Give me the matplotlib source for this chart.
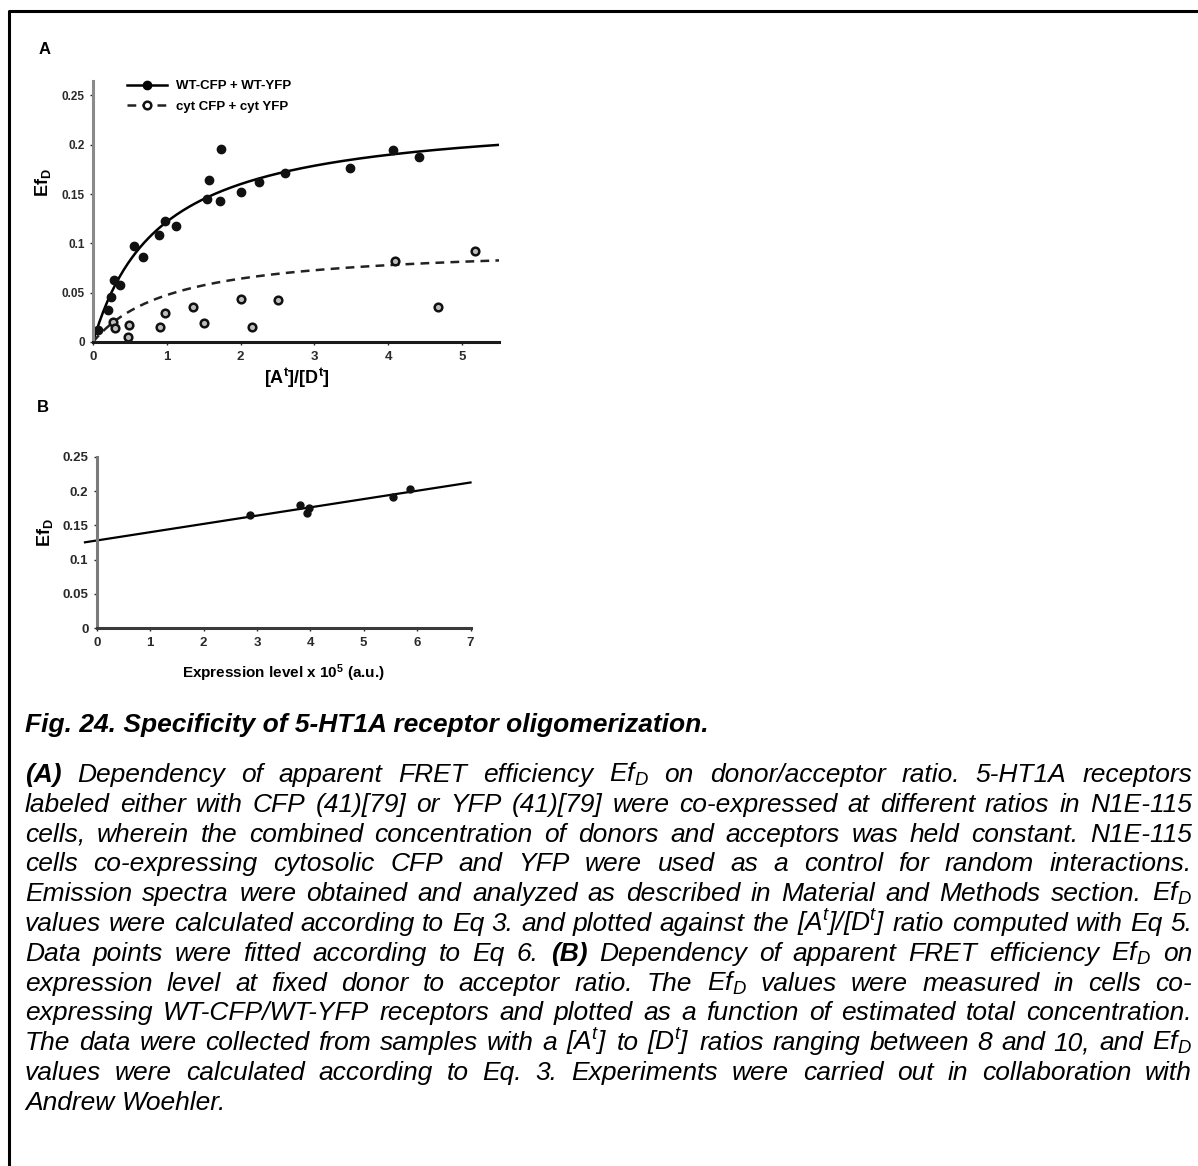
import numpy as np
import matplotlib
matplotlib.use('Agg')
import matplotlib.pyplot as plt
from matplotlib.lines import Line2D

plt.rcParams['font.family'] = ['Liberation Sans', 'DejaVu Sans']
plt.rcParams['mathtext.fontset'] = 'custom'
plt.rcParams['mathtext.rm'] = 'Liberation Sans'
plt.rcParams['mathtext.it'] = 'Liberation Sans:italic'
plt.rcParams['mathtext.bf'] = 'Liberation Sans:bold'

W, H = 1198, 1166

# --- panel A: Ef_D vs [A]/[D] ---
wt_ratio = [0.07, 0.2, 0.245, 0.29, 0.367, 0.56, 0.675, 0.89, 0.97, 1.12,
            1.545, 1.576, 1.725, 1.74, 2.0, 2.246, 2.595, 3.48, 4.07, 4.41]
wt_efd = [0.012, 0.032, 0.046, 0.063, 0.0575, 0.097, 0.0865, 0.109, 0.123, 0.118,
          0.1447, 0.164, 0.143, 0.1954, 0.152, 0.162, 0.171, 0.176, 0.195, 0.188]
cyt_ratio = [0.27, 0.3, 0.47, 0.49, 0.91, 0.98, 1.35, 1.5, 2.0, 2.15, 2.5, 4.09, 4.67, 5.18]
cyt_efd = [0.02, 0.014, 0.005, 0.017, 0.0155, 0.029, 0.035, 0.0196, 0.044, 0.015,
           0.0426, 0.0825, 0.0358, 0.0926]
# fitted hyperbola parameters (Emax, K)
wt_fit = (0.233, 0.91)
cyt_fit = (0.099, 1.08)
a_xticks = [0, 1, 2, 3, 4, 5]
a_yticks = [0, 0.05, 0.1, 0.15, 0.2, 0.25]
a_ylabels = ['0', '0.05', '0.1', '0.15', '0.2', '0.25']
legend_labels = ['WT-CFP + WT-YFP', 'cyt CFP + cyt YFP']

# --- panel B: Ef_D vs expression level ---
expr_level = [2.87, 3.81, 3.93, 3.98, 5.55, 5.87]
expr_efd = [0.165, 0.179, 0.168, 0.175, 0.192, 0.203]
b_xticks = [0, 1, 2, 3, 4, 5, 6, 7]
b_yticks = [0, 0.05, 0.1, 0.15, 0.2, 0.25]
b_ylabels = ['0', '0.05', '0.1', '0.15', '0.2', '0.25']

# --- caption ---
title = "Fig. 24. Specificity of 5-HT1A receptor oligomerization."
caption_lines = [
    "**(A)** Dependency of apparent FRET efficiency Ef$_D$ on donor/acceptor ratio. 5-HT1A receptors",
    "labeled either with CFP (41)[79] or YFP (41)[79] were co-expressed at different ratios in N1E-115",
    "cells, wherein the combined concentration of donors and acceptors was held constant. N1E-115",
    "cells co-expressing cytosolic CFP and YFP were used as a control for random interactions.",
    "Emission spectra were obtained and analyzed as described in Material and Methods section. Ef$_D$",
    "values were calculated according to Eq 3. and plotted against the [A$^t$]/[D$^t$] ratio computed with Eq 5.",
    "Data points were fitted according to Eq 6. **(B)** Dependency of apparent FRET efficiency Ef$_D$ on",
    "expression level at fixed donor to acceptor ratio. The Ef$_D$ values were measured in cells co-",
    "expressing WT-CFP/WT-YFP receptors and plotted as a function of estimated total concentration.",
    "The data were collected from samples with a [A$^t$] to [D$^t$] ratios ranging between 8 and 10, and Ef$_D$",
    "values were calculated according to Eq. 3. Experiments were carried out in collaboration with",
    "Andrew Woehler.",
]


def axes_px(left, top, right, bottom):
    return fig.add_axes([left / W, 1 - bottom / H, (right - left) / W, (bottom - top) / H])


def fpos(x, y):
    return x / W, 1 - y / H


def hyperbola(x, p):
    emax, k = p
    return emax * x / (k + x)


def style_axes(ax, ycol, xcol):
    for s in ('top', 'right'):
        ax.spines[s].set_visible(False)
    ax.spines['left'].set_color(ycol)
    ax.spines['bottom'].set_color(xcol)
    ax.spines['left'].set_linewidth(2.2)
    ax.spines['bottom'].set_linewidth(2.2)
    ax.tick_params(direction='out', length=2.5, width=1, colors='#2a2a2a',
                   labelsize=8.5)
    for lab in ax.get_xticklabels() + ax.get_yticklabels():
        lab.set_fontweight('bold')


fig = plt.figure(figsize=(W / 100, H / 100), dpi=100)

# page frame
fig.add_artist(Line2D([9 / W, 9 / W, 1], [0, 1 - 11 / H, 1 - 11 / H],
                      transform=fig.transFigure, color='black', lw=2.2))

# ---------------- panel A ----------------
axA = axes_px(93, 80.7, 499, 342)
xs = np.linspace(0, 5.5, 200)
axA.plot(xs, hyperbola(xs, wt_fit), color='black', lw=1.8)
axA.plot(xs, hyperbola(xs, cyt_fit), color='#222222', lw=1.8, ls=(0, (3.5, 2.5)))
axA.plot(wt_ratio, wt_efd, 'o', color='#111111', ms=6, clip_on=False)
axA.plot(cyt_ratio, cyt_efd, 'o', mfc='#bdbdbd', mec='#111111', mew=1.8, ms=5.5, clip_on=False)
axA.set_xlim(0, 5.5)
axA.set_ylim(0, 0.265)
axA.set_xticks(a_xticks)
axA.set_yticks(a_yticks)
axA.set_yticklabels(a_ylabels)
style_axes(axA, '#8a8a8a', '#1a1a1a')
axA.tick_params(axis='x', labelsize=9.5, pad=4)

handles = [Line2D([], [], color='black', lw=1.8, marker='o', ms=6),
           Line2D([], [], color='#222222', lw=1.8, ls=(0, (3.5, 2.5)), marker='o',
                  mfc='white', mec='#111111', mew=1.8, ms=5.5)]
leg = axA.legend(handles, legend_labels, loc='upper left',
                 bbox_to_anchor=((127 - 93) / 406, (342 - 80) / 261.3),
                 frameon=False, handlelength=3.0, handletextpad=0.7,
                 labelspacing=0.65, borderpad=0, borderaxespad=0,
                 prop={'weight': 'bold', 'size': 9.5})

fig.text(*fpos(45, 49), 'A', fontsize=12, fontweight='bold', ha='center', va='center')
fig.text(*fpos(43, 183), r'Ef$_\mathbf{D}$', fontsize=13, fontweight='bold',
         rotation=90, ha='center', va='center')
fig.text(*fpos(297, 378), r'[A$^\mathbf{t}$]/[D$^\mathbf{t}$]', fontsize=13,
         fontweight='bold', ha='center', va='center')

# ---------------- panel B ----------------
axB = axes_px(80.7, 449.9, 473.2, 628.3)
slope, icpt = np.polyfit(expr_level, expr_efd, 1)
xl = np.array([-0.22, 7.0])
axB.plot(xl, icpt + slope * xl, color='black', lw=1.6, clip_on=False)
axB.plot(expr_level, expr_efd, 'o', color='#111111', ms=5)
axB.set_xlim(-0.3, 7.05)
axB.set_ylim(0, 0.26)
axB.spines['left'].set_position(('data', 0))
axB.spines['left'].set_bounds(0, 0.25)
axB.spines['bottom'].set_bounds(0, 7)
axB.set_xticks(b_xticks)
axB.set_yticks(b_yticks)
axB.set_yticklabels(b_ylabels)
style_axes(axB, '#7a7a7a', '#3a3a3a')
axB.tick_params(axis='both', labelsize=9.5)

fig.text(*fpos(43, 407), 'B', fontsize=12, fontweight='bold', ha='center', va='center')
fig.text(*fpos(45, 533), r'Ef$_\mathbf{D}$', fontsize=13, fontweight='bold',
         rotation=90, ha='center', va='center')
fig.text(*fpos(283, 673), r'Expression level x 10$^\mathbf{5}$ (a.u.)', fontsize=11,
         fontweight='bold', ha='center', va='center')

# ---------------- caption ----------------
renderer = fig.canvas.get_renderer()
left, right = 25, 1192
fs = 19
fig.text(*fpos(left, 732), title, fontsize=fs, fontweight='bold', style='italic',
         ha='left', va='baseline')

base = 782
step = 29.8
for i, line in enumerate(caption_lines):
    y = base + i * step
    words = line.split(' ')
    texts = []
    for w in words:
        bold = w.startswith('**')
        s = w.replace('**', '')
        t = fig.text(0, 0, s, fontsize=fs, style='italic',
                     fontweight='bold' if bold else 'normal', ha='left', va='baseline')
        texts.append(t)
    widths = [t.get_window_extent(renderer).width for t in texts]
    if i == len(caption_lines) - 1:
        gap = fs * 100 / 72 * 0.278
    else:
        gap = (right - left - sum(widths)) / (len(words) - 1)
    x = left
    for t, wd in zip(texts, widths):
        t.set_position(fpos(x, y))
        x += wd + gap

fig.savefig('out.png', dpi=100)
